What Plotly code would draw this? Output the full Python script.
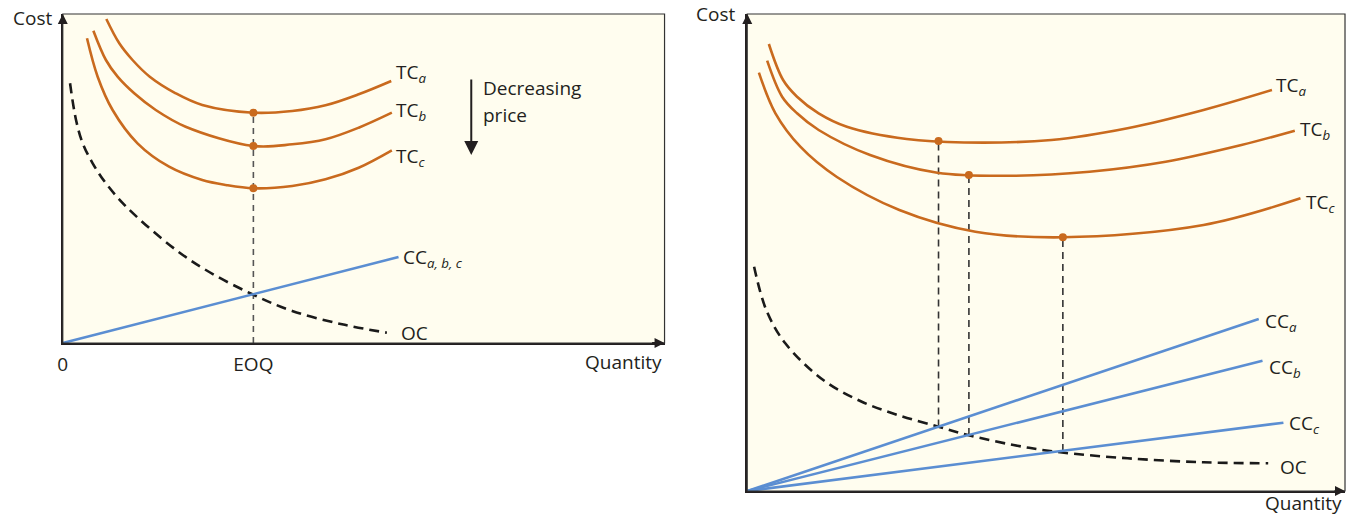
import plotly.graph_objects as go

# ---------------- data (arbitrary cost/quantity units) -------------
# Left panel: single EOQ for all prices
L_tca_x = [43.7, 56.7, 70, 87.3, 113.3, 140, 191.3, 230.3, 263.7, 297, 329.7]
L_tca_y = [324, 299.7, 283, 266.3, 249.7, 238, 230.3, 232, 237.7, 248.7, 262]
L_tcb_x = [30.7, 43.3, 55, 71.7, 93.3, 123.3, 191.3, 230.3, 263.7, 297, 330.3]
L_tcb_y = [312.3, 283, 266.3, 249.7, 233, 216.3, 197, 198.7, 203.7, 215.3, 230.3]
L_tcc_x = [24.3, 35, 50, 75, 106.7, 140, 163.7, 191.3, 230.3, 263.7, 297, 330.3]
L_tcc_y = [304.7, 266.3, 233, 199.7, 176.3, 163, 158, 154.7, 157, 163.7, 175.3, 192.7]
L_oc_x = [7.3, 13.3, 20, 30, 43.3, 65, 113.7, 147, 190.3, 230.3, 280.3, 325.3]
L_oc_y = [259.7, 223, 199.7, 179.7, 159.7, 135, 93, 71, 48.7, 32, 18.7, 10.3]
L_cc_x = [0, 337]
L_cc_y = [0, 86]
L_eoq = 191.3
L_dot_y = [230.3, 197, 154.7]
L_tick_vals = [0, L_eoq]
L_tick_text = ["0", "EOQ"]

# Right panel: EOQ shifts with price
R_tca_x = [21.7, 36, 50, 71.7, 100, 160, 217.6, 305.3, 381.7, 458, 526.7]
R_tca_y = [447, 411, 394.3, 377.7, 364.3, 352, 348.5, 351, 362.7, 381, 401]
R_tcb_x = [20, 35, 50, 71.7, 123.3, 190.8, 267, 343.5, 420, 496, 549.6]
R_tcb_y = [430.3, 394.3, 377.7, 361, 336, 318.3, 315.3, 319.3, 329.3, 346, 360.3]
R_tcc_x = [11.7, 28.3, 53.3, 90, 152.7, 229, 316.8, 458, 555.3]
R_tcc_y = [418.3, 377.7, 344.3, 314, 281, 259.3, 253.7, 266, 292.7]
R_oc_x = [6.9, 19.1, 38.2, 76.3, 114.5, 152.7, 192, 221.4, 267.2, 309.2, 381.7, 458, 522.9]
R_oc_y = [224.3, 181, 147.7, 111, 89.5, 75.5, 64.3, 56, 46, 39.3, 32.7, 28.7, 27.7]
R_cca_x, R_cca_y = [0, 513.4], [0, 172]
R_ccb_x, R_ccb_y = [0, 517.2], [0, 130.3]
R_ccc_x, R_ccc_y = [0, 538.2], [0, 68.3]
R_eoq = [192, 222.5, 316.8]
R_dot_y = [350, 316, 253.7]
R_low_y = [64.5, 56, 40]

# ---------------- styling ----------------
W, H = 1347, 518
ORANGE = "#C96A1E"
BLUE = "#5B8ED2"
TXT = "#231F20"
BG = "#FFFDEF"
FONT = "Open Sans"
FS = 19


def px(x):
    return x / W


def py(y):
    return 1 - y / H


fig = go.Figure()


def line(x, y, ax, color, width=2.6, dash=None, spline=True):
    fig.add_trace(go.Scatter(
        x=x, y=y, mode="lines", xaxis=ax[0], yaxis=ax[1],
        line=dict(color=color, width=width, dash=dash,
                  shape="spline" if spline else "linear", smoothing=1.0),
        hoverinfo="skip", showlegend=False, cliponaxis=False))


LA = ("x", "y")
RA = ("x2", "y2")

# left panel
line([L_eoq, L_eoq], [0, L_dot_y[0]], LA, "#555555", 1.6, "6px,5px", False)
line(L_oc_x, L_oc_y, LA, "#1A1A1A", 2.6, "10px,6px")
line(L_cc_x, L_cc_y, LA, BLUE, 2.6, None, False)
line(L_tca_x, L_tca_y, LA, ORANGE)
line(L_tcb_x, L_tcb_y, LA, ORANGE)
line(L_tcc_x, L_tcc_y, LA, ORANGE)
fig.add_trace(go.Scatter(x=[L_eoq] * 3, y=L_dot_y, mode="markers", xaxis="x", yaxis="y",
                         marker=dict(color=ORANGE, size=8), hoverinfo="skip", showlegend=False))

# right panel
for xe, lo, hi in zip(R_eoq, R_low_y, R_dot_y):
    line([xe, xe], [lo, hi], RA, "#333333", 1.6, "7px,5px", False)
line(R_oc_x, R_oc_y, RA, "#1A1A1A", 2.6, "10px,6px")
line(R_cca_x, R_cca_y, RA, BLUE, 2.6, None, False)
line(R_ccb_x, R_ccb_y, RA, BLUE, 2.6, None, False)
line(R_ccc_x, R_ccc_y, RA, BLUE, 2.6, None, False)
line(R_tca_x, R_tca_y, RA, ORANGE)
line(R_tcb_x, R_tcb_y, RA, ORANGE)
line(R_tcc_x, R_tcc_y, RA, ORANGE)
fig.add_trace(go.Scatter(x=R_eoq, y=R_dot_y, mode="markers", xaxis="x2", yaxis="y2",
                         marker=dict(color=ORANGE, size=8), hoverinfo="skip", showlegend=False))

# ---------------- axes ----------------
L_dom_x = [px(58), px(662)]
L_dom_y = [py(343), py(14)]
R_dom_x = [px(745), px(1345)]
R_dom_y = [py(491), py(14)]

axis_common = dict(showgrid=False, zeroline=False, showline=True, linecolor=TXT,
                   linewidth=2, fixedrange=True)
fig.update_layout(
    width=W, height=H, margin=dict(l=0, r=0, t=0, b=0),
    paper_bgcolor="white", plot_bgcolor=BG, showlegend=False,
    font=dict(family=FONT, size=FS, color=TXT),
    xaxis=dict(domain=L_dom_x, range=[0, 604], tickvals=L_tick_vals, ticktext=L_tick_text,
               ticks="outside", ticklen=3, tickcolor="rgba(0,0,0,0)",
               tickfont=dict(family=FONT, size=FS, color=TXT), anchor="y", **axis_common),
    yaxis=dict(domain=L_dom_y, range=[0, 329], showticklabels=False, anchor="x", **axis_common),
    xaxis2=dict(domain=R_dom_x, range=[0, 600], showticklabels=False, anchor="y2", **axis_common),
    yaxis2=dict(domain=R_dom_y, range=[0, 477], showticklabels=False, anchor="x2", **axis_common),
)

# frames (top & right edges)
for xr, yr in (("x domain", "y domain"), ("x2 domain", "y2 domain")):
    fig.add_shape(type="rect", xref=xr, yref=yr, x0=0, x1=1, y0=0, y1=1,
                  line=dict(color="#333333", width=1.2), fillcolor="rgba(0,0,0,0)", layer="above")

ann = []


def arrow(x, y, ax, ay, xref, yref, size=1.0, width=2):
    ann.append(dict(x=x, y=y, ax=ax, ay=ay, xref=xref, yref=yref, axref=xref, ayref=yref,
                    text="", showarrow=True, arrowhead=2, arrowsize=size, arrowwidth=width,
                    arrowcolor=TXT))


# axis arrowheads
arrow(604, 0, 590, 0, "x", "y")
arrow(0, 329, 0, 318, "x", "y")
arrow(600, 0, 588, 0, "x2", "y2")
arrow(0, 477, 0, 466, "x2", "y2")
# decreasing price arrow
arrow(410, 188, 410, 265, "x", "y", 1.4, 2)


def label(text, x, y, xanchor="left", size=FS, yanchor="middle"):
    ann.append(dict(text=text, x=px(x), y=py(y), xref="paper", yref="paper",
                    xanchor=xanchor, yanchor=yanchor, showarrow=False,
                    font=dict(family=FONT, size=size, color=TXT)))


sub = lambda s: "<sub><i>" + s + "</i></sub>"

label("Cost", 49, 18, "right")
label("Quantity", 661, 362, "right")
label("TC" + sub("a"), 390, 73)
label("TC" + sub("b"), 390, 111)
label("TC" + sub("c"), 390, 157)
label("Decreasing", 478, 88)
label("price", 478, 115)
label("CC" + sub("a, b, c"), 397, 258)
label("OC", 395, 333)

label("Cost", 735, 14, "right")
label("Quantity", 1344, 518, "right", FS, "bottom")
label("TC" + sub("a"), 1274, 86)
label("TC" + sub("b"), 1298, 130)
label("TC" + sub("c"), 1304, 203)
label("CC" + sub("a"), 1263, 322)
label("CC" + sub("b"), 1267, 368)
label("CC" + sub("c"), 1287, 424)
label("OC", 1278, 467)

fig.update_layout(annotations=ann)
fig.write_html("out.html", config={"displayModeBar": False},
               post_script="document.body.style.margin='0px';")
